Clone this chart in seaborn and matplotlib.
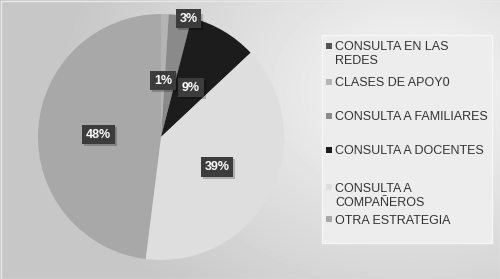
import numpy as np
import matplotlib
matplotlib.use("Agg")
import matplotlib.pyplot as plt
import seaborn as sns
from matplotlib.patches import Rectangle

sns.set_theme(style="white")
plt.rcParams['font.family'] = ['Liberation Sans', 'DejaVu Sans']

categories = ["CONSULTA EN LAS\nREDES", "CLASES DE APOY0", "CONSULTA A FAMILIARES",
              "CONSULTA A DOCENTES", "CONSULTA A\nCOMPAÑEROS", "OTRA ESTRATEGIA"]
values = [0, 1, 3, 9, 39, 48]
value_labels = ["", "1%", "3%", "9%", "39%", "48%"]

colors = ["#545454", "#b4b4b4", "#8a8a8a", "#1c1c1c", "#dedede", "#a8a8a8"]
label_radius = [0.5, 0.47, 1.0, 0.48, 0.51, 0.51]
label_angle_shift = [0, 0, -4, 0, 0, 0]
legend_y = [46, 82, 116, 150, 187, 219]   # first-line centres, px from top

W, H = 500, 279
fig = plt.figure(figsize=(W / 100, H / 100), dpi=100)

# background radial gradient + legend panel (pixel coordinates)
bg = fig.add_axes([0, 0, 1, 1], zorder=-10)
yy, xx = np.mgrid[0:H, 0:W]
d = np.sqrt(((xx - 410) / 330.0) ** 2 + ((yy - 90) / 260.0) ** 2)
g = np.clip(0.97 - 0.18 * d, 0.78, 0.97)
bg.imshow(g, cmap="gray", vmin=0, vmax=1, extent=[0, W, H, 0], aspect="auto")
bg.add_patch(Rectangle((0.5, 0.5), W - 1, H - 1, fill=False, ec="#e8e8e8", lw=1))
bg.add_patch(Rectangle((322, 35), 170, 208, fc="#ededed", ec="#f6f6f6", lw=1))
bg.set_xlim(0, W)
bg.set_ylim(H, 0)
bg.axis("off")

# legend entries
for cat, col, y0 in zip(categories, colors, legend_y):
    bg.add_patch(Rectangle((326, y0 - 3), 6, 6, fc=col, ec="none"))
    for i, line in enumerate(cat.split("\n")):
        bg.text(335, y0 + i * 14, line, ha="left", va="center_baseline",
                fontsize=9, color="#333333")

cx, cy, r = 161, 137, 123
ax = fig.add_axes([(cx - r) / W, 1 - (cy + r) / H, 2 * r / W, 2 * r / H])
wedges, _ = ax.pie(values, colors=colors, startangle=90, counterclock=False,
                   wedgeprops=dict(linewidth=0))
ax.set_aspect("auto")
ax.set_xlim(-1, 1)
ax.set_ylim(-1, 1)

labels = []
for w, lab, lr, da in zip(wedges, value_labels, label_radius, label_angle_shift):
    if not lab:
        continue
    ang = np.deg2rad((w.theta1 + w.theta2) / 2 + da)
    x, y = lr * np.cos(ang), lr * np.sin(ang)
    t = ax.text(x, y, lab, ha="center", va="center_baseline", fontsize=9,
                fontweight="bold", color="white", zorder=5,
                bbox=dict(boxstyle="square,pad=0.3", fc="#3c3c3c", ec="none"))
    labels.append(t)

# soft drop shadows behind the label boxes
fig.canvas.draw()
for t in labels:
    bb = t.get_bbox_patch().get_window_extent()
    x0, y0 = bg.transData.inverted().transform((bb.x0, bb.y1))
    x1, y1 = bg.transData.inverted().transform((bb.x1, bb.y0))
    shadow = Rectangle((x0 + 2, y0 + 2), x1 - x0, y1 - y0, fc="black", ec="none",
                       alpha=0.22, transform=bg.transData, zorder=4)
    ax.add_artist(shadow)
    shadow.set_transform(bg.transData)

fig.savefig("out.png", dpi=100)
